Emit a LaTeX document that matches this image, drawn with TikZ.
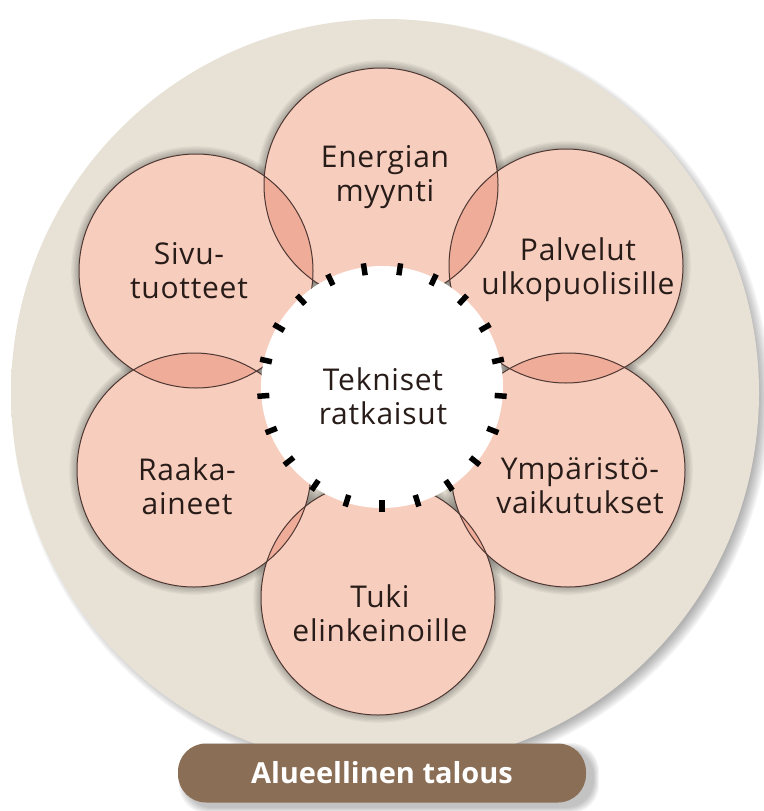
\documentclass[tikz,border=0pt]{standalone}
\usepackage{fontspec}
\setmainfont{Open Sans}[LetterSpace=2.5]
\newfontfamily\labfont{Open Sans}
\usetikzlibrary{calc}
\definecolor{petalc}{RGB}{247,205,190}
\definecolor{lensc}{RGB}{238,172,153}
\definecolor{rimc}{RGB}{78,55,50}
\definecolor{bgin}{RGB}{232,226,214}
\definecolor{bgout}{RGB}{214,206,191}
\definecolor{labc}{RGB}{139,110,86}
\definecolor{txtc}{RGB}{40,28,25}
\pgfdeclareradialshading{bgshade}{\pgfpoint{0bp}{0bp}}{color(0bp)=(bgin); color(34bp)=(bgin); color(50bp)=(bgout)}
\begin{document}
\begin{tikzpicture}[x=1pt,y=-1pt,
  lbl/.style={font=\fontsize{30}{34}\selectfont, text=txtc, align=center, inner sep=0pt},
  petalfill/.style={fill=petalc},
  lensfill/.style={fill=lensc},
  rim/.style={draw=rimc, line width=1pt},
  dashmark/.style={line width=5.5pt, black},
  softshadow/.style={fill=black, opacity=0.045}
]
\useasboundingbox (0,0) rectangle (763,811);
% outer disc
\coordinate (O) at (385,393);
\coordinate (Osh) at (391,399);
\foreach \i in {0,...,7}{\fill[softshadow] (Osh) circle ({368pt+\i*1.6pt});}
\shade[shading=bgshade] (O) circle (374pt);
% petals
\coordinate (p1) at (381,185);
\coordinate (p2) at (566,266);
\coordinate (p3) at (568,470);
\coordinate (p4) at (378,598);
\coordinate (p5) at (194,470);
\coordinate (p6) at (196,271);
\foreach \p in {p1,p2,p3,p4,p5,p6}{
  \foreach \i in {1,...,6}{\fill[softshadow] (\p) circle ({117pt+\i*1.3pt});}
}
\foreach \p in {p1,p2,p3,p4,p5,p6}{\fill[petalfill] (\p) circle (117pt);}
\foreach \a/\b in {p1/p2,p2/p3,p3/p4,p4/p5,p5/p6,p6/p1}{
  \begin{scope}
    \clip (\a) circle (117pt);
    \fill[lensfill] (\b) circle (117pt);
  \end{scope}
}
\foreach \p in {p1,p2,p3,p4,p5,p6}{\draw[rim] (\p) circle (117pt);}
% centre
\node (ctr) at (382,387) [circle, fill=white, minimum size=242pt, inner sep=0pt] {};
\foreach \k in {0,...,20}{
  \draw[dashmark] ($(ctr.center)+(270+\k*17.1429:113pt)$) -- ($(ctr.center)+(270+\k*17.1429:125pt)$);
}
\node[lbl] (t0) at (383,396) {Tekniset\\ratkaisut};
\node[lbl] (t1) at (385,177) {Energian\\myynti};
\node[lbl] (t2) at (578,270) {Palvelut\\ulkopuolisille};
\node[lbl] (t3) at (580,486) {Ympäristö-\\vaikutukset};
\node[lbl] (t4) at (380,613) {Tuki\\elinkeinoille};
\node[lbl] (t5) at (187,486) {Raaka-\\aineet};
\node[lbl] (t6) at (189,271) {Sivu-\\tuotteet};
% label
\foreach \i in {0,...,5}{\fill[softshadow, rounded corners=28pt] ({184-\i},{748-\i}) rectangle ({594+\i},{808+\i});}
\node (lab) at (382,773) [rounded corners=28pt, fill=labc, minimum width=408pt, minimum height=59pt, inner sep=0pt, text=white, font=\labfont\bfseries\fontsize{29}{34}\selectfont] {Alueellinen talous};
\end{tikzpicture}
\end{document}
